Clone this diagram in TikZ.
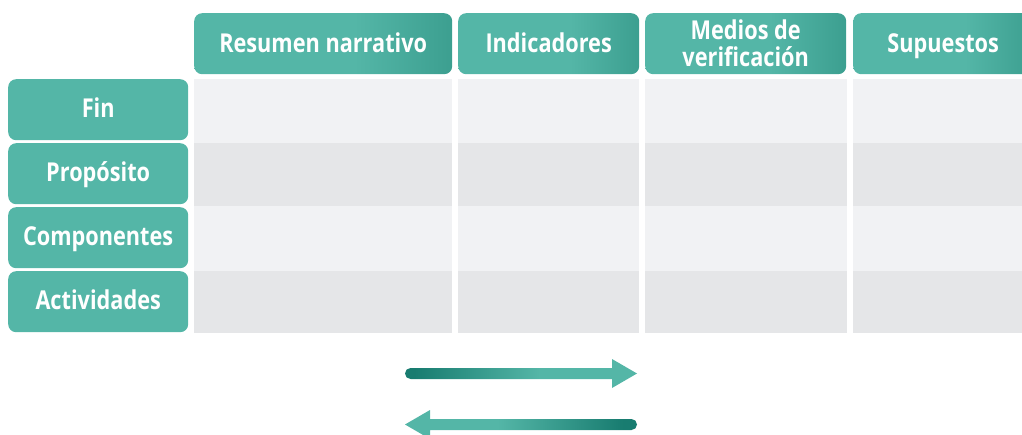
\documentclass[tikz,border=0pt]{standalone}
\usepackage{fontspec}
\newfontfamily\lab{Open Sans}[FakeStretch=0.835]
\definecolor{tealL}{HTML}{54B6A7}
\definecolor{tealD}{HTML}{3C9F90}
\definecolor{tealA}{HTML}{187C70}
\definecolor{cellL}{HTML}{F1F2F4}
\definecolor{cellD}{HTML}{E5E6E8}
\pgfdeclarehorizontalshading{hdrshade}{100bp}{color(0bp)=(tealL); color(56bp)=(tealL); color(75bp)=(tealD); color(100bp)=(tealD)}
\pgfdeclarehorizontalshading{arrR}{100bp}{color(0bp)=(tealA); color(27bp)=(tealA); color(54bp)=(tealL); color(100bp)=(tealL)}
\pgfdeclarehorizontalshading{arrL}{100bp}{color(0bp)=(tealL); color(45bp)=(tealL); color(72bp)=(tealA); color(100bp)=(tealA)}
\tikzset{
  lbl/.style={text=white, font=\lab\bfseries\fontsize{26}{27}\selectfont, align=center, inner sep=0pt, anchor=north west},
  oneline/.style={text height=18.6pt, text depth=0pt},
  hdr/.style={lbl, rounded corners=8pt, shading=hdrshade, minimum height=61pt},
  rowlab/.style={lbl, oneline, text depth=3pt, rounded corners=8pt, fill=tealL, minimum width=180pt, minimum height=61pt},
  cell/.style={inner sep=0pt, anchor=north west, draw=none},
  odd/.style={cell, fill=cellL},
  even/.style={cell, fill=cellD},
}
\begin{document}
\begin{tikzpicture}[x=1pt, y=-1pt]
\useasboundingbox (0,0) rectangle (1022,435);
\clip (0,0) rectangle (1022,435);
% headers
\node[hdr, oneline, minimum width=258pt] (h1) at (194,13) {Resumen narrativo};
\node[hdr, oneline, minimum width=181pt] (h2) at (458,13) {Indicadores};
\node[hdr, minimum width=201pt] (h3) at (645,13) {Medios de\\verificación};
\node[hdr, oneline, minimum width=180pt] (h4) at (853,13) {Supuestos};
% row labels
\node[rowlab] (r1) at (8,79) {Fin};
\node[rowlab] (r2) at (8,143) {Propósito};
\node[rowlab] (r3) at (8,207) {Componentes};
\node[rowlab] (r4) at (8,271) {Actividades};
% cells
\foreach \x/\w/\c in {194/258/1, 458/181/2, 645/202/3, 853/180/4}{
  \node[odd,  minimum width=\w pt, minimum height=64pt] (c1\c) at (\x,79) {};
  \node[even, minimum width=\w pt, minimum height=63pt] (c2\c) at (\x,143) {};
  \node[odd,  minimum width=\w pt, minimum height=65pt] (c3\c) at (\x,206) {};
  \node[even, minimum width=\w pt, minimum height=62pt] (c4\c) at (\x,271) {};
}
% arrows
\path[shading=arrR] (410.5,368) -- (612,368) -- (612,359) -- (637,373.5) -- (612,388) -- (612,379) -- (410.5,379) arc (90:270:5.5) -- cycle;
\path[shading=arrL] (631.5,419) -- (430,419) -- (430,410) -- (405,424.5) -- (430,439) -- (430,430) -- (631.5,430) arc (90:-90:5.5) -- cycle;
\end{tikzpicture}
\end{document}
